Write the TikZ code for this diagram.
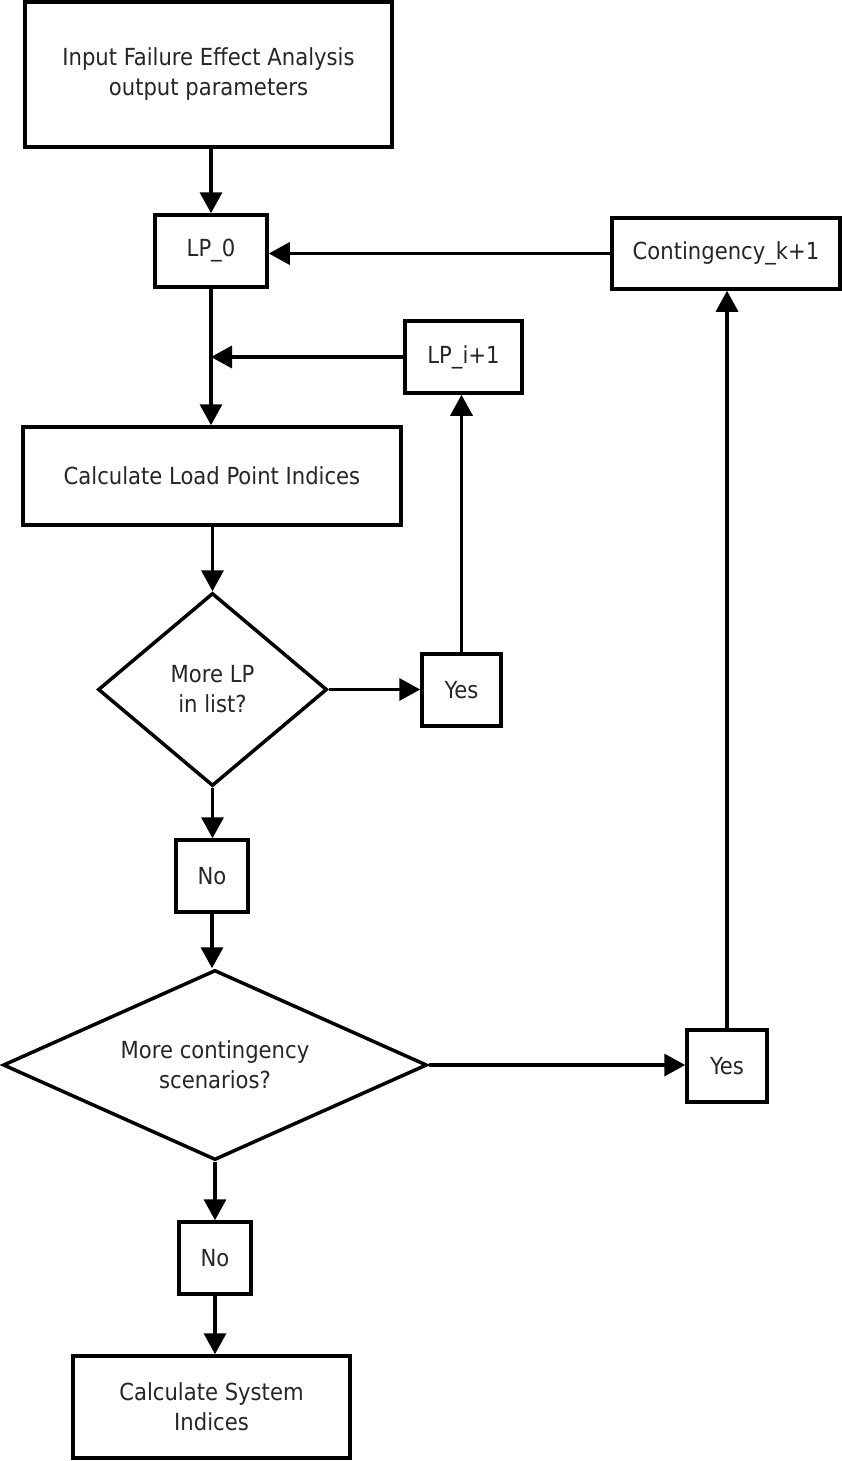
\documentclass[tikz,border=0pt]{standalone}
\usepackage{fontspec}
\setmainfont{DejaVu Sans Condensed}
\usetikzlibrary{shapes.geometric,arrows.meta}
\tikzset{
  box/.style={draw=black, line width=3.5pt, rectangle, inner sep=0pt, align=center, text=black!85, font=\fontsize{23.5}{30}\selectfont},
  dia/.style={draw=black, line width=3.5pt, diamond, inner sep=0pt, align=center, text=black!85, font=\fontsize{23.5}{30}\selectfont},
  arr/.style={line width=3.5pt, -{Triangle[length=21pt,width=22pt]}},
}
\begin{document}
\begin{tikzpicture}[x=1pt,y=-1pt]
\useasboundingbox[fill=white] (0,0) rectangle (842,1461);
\node[box, minimum width=367pt, minimum height=145pt] (in) at (208.5,74.5) {Input Failure Effect Analysis\\output parameters};
\node[box, minimum width=112pt, minimum height=72pt] (lp0) at (211,251) {LP\_0};
\node[box, minimum width=228pt, minimum height=71pt] (cont) at (726,253.5) {Contingency\_k+1};
\node[box, minimum width=117pt, minimum height=72pt] (lpi) at (463.5,357) {LP\_i+1};
\node[box, minimum width=378pt, minimum height=98pt] (calc) at (212,476) {Calculate Load Point Indices};
\node[dia, shape aspect=1.19, minimum width=229pt, minimum height=193pt] (d1) at (212.5,689.5) {More LP\\in list?};
\node[box, minimum width=79pt, minimum height=72pt] (yes1) at (461.5,690) {Yes};
\node[box, minimum width=72pt, minimum height=72pt] (no1) at (212,876) {No};
\node[dia, shape aspect=2.23, minimum width=424pt, minimum height=190pt] (d2) at (215,1065) {More contingency\\scenarios?};
\node[box, minimum width=80pt, minimum height=72pt] (yes2) at (727,1066) {Yes};
\node[box, minimum width=72pt, minimum height=72pt] (no2) at (215,1258) {No};
\node[box, minimum width=277pt, minimum height=102pt] (sys) at (211.5,1407) {Calculate System\\Indices};
\coordinate (j) at (lp0.south |- lpi.west);
\draw[arr] (lp0.north |- in.south) -- (lp0.north);
\draw[arr] (cont.west) -- (cont.west -| lp0.east);
\draw[arr] (lp0.south) -- (lp0.south |- calc.north);
\draw[arr] (lpi.west) -- (j);
\draw[arr] (calc.south -| d1.north) -- (d1.north);
\draw[arr] (d1.east) -- (d1.east -| yes1.west);
\draw[arr] (yes1.north) -- (yes1.north |- lpi.south);
\draw[arr] (d1.south) -- (d1.south |- no1.north);
\draw[arr] (no1.south) -- (no1.south |- d2.north);
\draw[arr] (d2.east) -- (d2.east -| yes2.west);
\draw[arr] (yes2.north) -- (yes2.north |- cont.south);
\draw[arr] (d2.south) -- (d2.south |- no2.north);
\draw[arr] (no2.south) -- (no2.south |- sys.north);
\end{tikzpicture}
\end{document}
